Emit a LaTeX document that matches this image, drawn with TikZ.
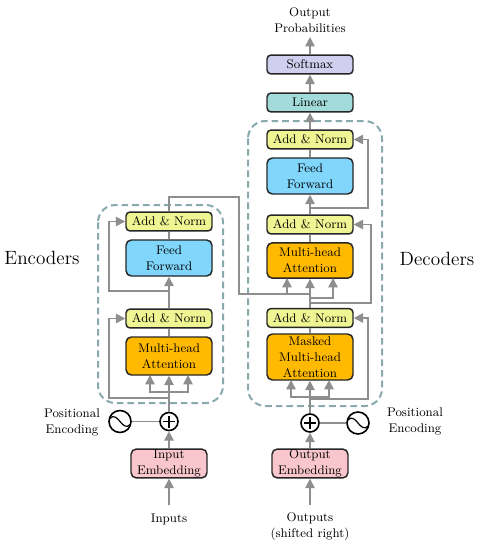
\documentclass[tikz,border=0pt]{standalone}
\usetikzlibrary{arrows.meta}
\definecolor{cAdd}{HTML}{F0F593}
\definecolor{cFF}{HTML}{80D6FB}
\definecolor{cAtt}{HTML}{FFBA00}
\definecolor{cEmb}{HTML}{F8C6CC}
\definecolor{cSoft}{HTML}{D0CFF0}
\definecolor{cLin}{HTML}{A3DADA}
\definecolor{cDash}{HTML}{88A9AE}
\definecolor{cArr}{HTML}{8E8E8E}
\tikzset{
  box/.style={draw=black!85, line width=1.1pt, rounded corners=4pt, align=center, inner sep=0pt, font=\fontsize{9.4}{12}\selectfont, minimum width=64.5pt},
  addbox/.style={box, fill=cAdd, rounded corners=3pt, minimum height=14.2pt},
  ffbox/.style={box, fill=cFF, minimum height=27pt},
  attbox/.style={box, fill=cAtt},
  embbox/.style={box, fill=cEmb, minimum height=21.7pt, minimum width=57pt},
  softbox/.style={box, fill=cSoft, rounded corners=3pt, minimum height=14.2pt},
  linbox/.style={box, fill=cLin, rounded corners=3pt, minimum height=14.2pt},
  lbl/.style={align=center, inner sep=0pt, font=\fontsize{9.4}{12}\selectfont},
  biglbl/.style={inner sep=0pt, font=\fontsize{14.4}{16}\selectfont},
  arr/.style={draw=cArr, line width=1.2pt, -{Triangle[length=7pt,width=7pt]}},
  lin/.style={draw=cArr, line width=1.2pt},
  dashbox/.style={draw=cDash, line width=1.5pt, dash pattern=on 5pt off 3pt, rounded corners=13pt},
  plusn/.style={draw=black, line width=1.2pt, circle, minimum size=13.5pt, inner sep=0pt, fill=white},
  sinen/.style={draw=black, line width=1.2pt, circle, minimum size=16.5pt, inner sep=0pt, fill=white},
  glyph/.style={draw=black, line width=1.3pt},
  wave/.style={draw=black, line width=0.9pt}
}
\begin{document}
\begin{tikzpicture}[x=0.75pt,y=-0.75pt]
\useasboundingbox (0,0) rectangle (480,550);
% dashed groups
\draw[dashbox] (98,205) rectangle (223,403);
\draw[dashbox] (248,121) rectangle (382,406);
% encoder
\node[addbox] (ea2) at (169,221.5) {Add \& Norm};
\node[ffbox] (eff) at (169,258) {Feed\\Forward};
\node[addbox] (ea1) at (169,318.5) {Add \& Norm};
\node[attbox, minimum height=28.5pt] (eatt) at (169,356) {Multi-head\\Attention};
\node[plusn] (ep) at (169,421.5) {};
\node[sinen] (es) at (120,421.5) {};
\node[embbox] (eemb) at (169,463.5) {Input\\Embedding};
\node[lbl] (einp) at (169,519) {Inputs};
\node[lbl] (epos) at (72,422) {Positional\\Encoding};
\node[biglbl] (enc) at (42,258) {Encoders};
% decoder
\node[addbox] (da3) at (310,139.5) {Add \& Norm};
\node[ffbox] (dff) at (310,176) {Feed\\Forward};
\node[addbox] (da2) at (310,224.5) {Add \& Norm};
\node[attbox, minimum height=26.5pt] (datt) at (310,260.5) {Multi-head\\Attention};
\node[addbox] (da1) at (310,318) {Add \& Norm};
\node[attbox, minimum height=34.5pt] (dmask) at (310,357) {Masked\\Multi-head\\Attention};
\node[plusn] (dp) at (310,423) {};
\node[sinen] (ds) at (358,423) {};
\node[embbox] (demb) at (310,463.5) {Output\\Embedding};
\node[lbl] (dinp) at (310,527) {Outputs\\(shifted right)};
\node[lbl] (dpos) at (415,421) {Positional\\Encoding};
\node[biglbl] (dec) at (437,259) {Decoders};
\node[linbox] (linr) at (310,102.5) {Linear};
\node[softbox] (soft) at (310,64.5) {Softmax};
\node[lbl] (prob) at (310,20.5) {Output\\Probabilities};
% free ends
\coordinate (einE) at (169,505);
\coordinate (dinE) at (310,505);
\coordinate (probE) at (310,37);
% encoder connectors
\draw[arr] (einE) -- (eemb.south);
\draw[arr] (eemb.north) -- (ep.south);
\draw[lin] (es.east) -- (ep.west);
\draw[arr] (ep.north) -- (eatt.south);
\draw[arr] (169,392) -- (150,392) -- (150,375);
\draw[arr] (169,392) -- (188,392) -- (188,375);
\draw[arr] (169,398) -- (109,398) -- (109,318.5) -- (ea1.west);
\draw[lin] (eatt.north) -- (ea1.south);
\draw[arr] (ea1.north) -- (eff.south);
\draw[arr] (169,291) -- (109,291) -- (109,221.5) -- (ea2.west);
\draw[lin] (eff.north) -- (ea2.south);
% cross connection
\draw[lin] (ea2.north) -- (169,197) -- (239,197) -- (239,294) -- (310,294);
\draw[arr] (287,294) -- (287,278);
\draw[arr] (310,294) -- (datt.south);
% decoder connectors
\draw[arr] (dinE) -- (demb.south);
\draw[arr] (demb.north) -- (dp.south);
\draw[lin] (ds.west) -- (dp.east);
\draw[arr] (dp.north) -- (dmask.south);
\draw[arr] (310,397) -- (291,397) -- (291,380);
\draw[arr] (310,397) -- (329,397) -- (329,380);
\draw[arr] (310,399) -- (368,399) -- (368,318) -- (da1.east);
\draw[lin] (dmask.north) -- (da1.south);
\draw[lin] (da1.north) -- (310,294);
\draw[arr] (310,298) -- (333,298) -- (333,278);
\draw[arr] (310,303) -- (371,303) -- (371,224.5) -- (da2.east);
\draw[lin] (datt.north) -- (da2.south);
\draw[arr] (da2.north) -- (dff.south);
\draw[arr] (310,208) -- (368,208) -- (368,139.5) -- (da3.east);
\draw[lin] (dff.north) -- (da3.south);
\draw[arr] (da3.north) -- (linr.south);
\draw[arr] (linr.north) -- (soft.south);
\draw[arr] (soft.north) -- (probE);
% symbols
\draw[glyph] (169,415.5) -- (169,427.5) (163,421.5) -- (175,421.5);
\draw[glyph] (310,417) -- (310,429) (304,423) -- (316,423);
\draw[wave, shift={(120,421.5)}] (-10,-3) .. controls (-7,-7) and (-3,-4) .. (0,0) .. controls (3,4) and (7,7) .. (10,3);
\draw[wave, shift={(358,423)}] (-10,-3) .. controls (-7,-7) and (-3,-4) .. (0,0) .. controls (3,4) and (7,7) .. (10,3);
\end{tikzpicture}
\end{document}
